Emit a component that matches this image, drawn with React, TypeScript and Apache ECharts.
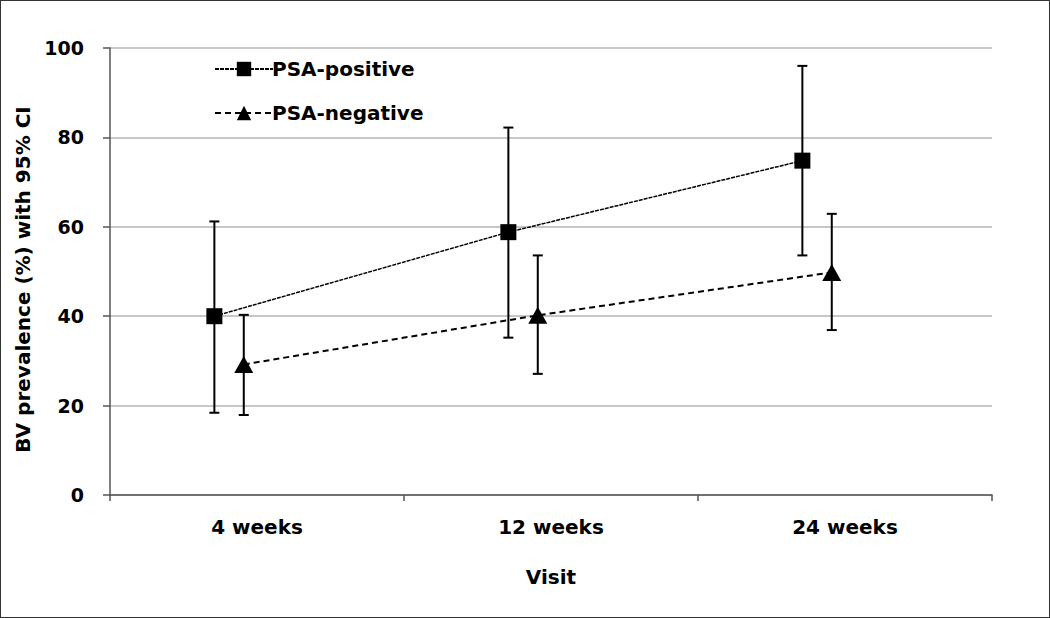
import React, { useEffect, useRef } from "react";
import * as echarts from "echarts";

const categories = ["4 weeks", "12 weeks", "24 weeks"];
const posValues = [40, 58.8, 74.8];
const posLower = [18.4, 35.2, 53.6];
const posUpper = [61.2, 82.2, 96];
const negValues = [29.2, 40.2, 49.8];
const negLower = [17.9, 27.1, 36.9];
const negUpper = [40.3, 53.6, 62.9];
const yTicks = [0, 20, 40, 60, 80, 100];

const POS_OFFSET = -0.145;
const NEG_OFFSET = -0.045;
const FONT = "'DejaVu Sans', sans-serif";

export default function App() {
  const ref = useRef<HTMLDivElement>(null);
  useEffect(() => {
    if (!ref.current) return;
    const chart = echarts.init(ref.current, null, { renderer: "svg" });
    const pos = posValues.map((v, i) => [i + 0.5 + POS_OFFSET, v]);
    const neg = negValues.map((v, i) => [i + 0.5 + NEG_OFFSET, v]);
    const posErr = posValues.map((_, i) => [i + 0.5 + POS_OFFSET, posLower[i], posUpper[i]]);
    const negErr = negValues.map((_, i) => [i + 0.5 + NEG_OFFSET, negLower[i], negUpper[i]]);
    const errRender = (params: any, api: any) => {
      const x = api.value(0);
      const lo = api.coord([x, api.value(1)]);
      const hi = api.coord([x, api.value(2)]);
      const hw = 5;
      const style = { stroke: "#000", lineWidth: 2 };
      return {
        type: "group",
        children: [
          { type: "line", shape: { x1: lo[0], y1: lo[1], x2: hi[0], y2: hi[1] }, style },
          { type: "line", shape: { x1: lo[0] - hw, y1: lo[1], x2: lo[0] + hw, y2: lo[1] }, style },
          { type: "line", shape: { x1: hi[0] - hw, y1: hi[1], x2: hi[0] + hw, y2: hi[1] }, style },
        ],
      };
    };
    const txt = { fontFamily: FONT, fontWeight: "bold", fontSize: 20, color: "#000" };
    chart.setOption({
      animation: false,
      backgroundColor: "#fff",
      textStyle: { fontFamily: FONT },
      grid: { left: 109, right: 57, top: 47, bottom: 122 },
      legend: {
        orient: "vertical",
        left: 208,
        top: 53,
        itemWidth: 58,
        itemHeight: 18,
        itemGap: 24,
        data: ["PSA-positive", "PSA-negative"],
        textStyle: { ...txt, padding: [0, 0, 0, -6] },
      },
      xAxis: [
        {
          type: "category",
          data: categories,
          boundaryGap: true,
          axisLine: { lineStyle: { color: "#555", width: 1.5 } },
          axisTick: { show: true, length: 6, lineStyle: { color: "#555", width: 1.5 } },
          axisLabel: { ...txt, margin: 22 },
          name: "Visit",
          nameLocation: "middle",
          nameGap: 72,
          nameTextStyle: txt,
        },
        { type: "value", min: 0, max: categories.length, show: false },
      ],
      yAxis: {
        type: "value",
        min: yTicks[0],
        max: yTicks[yTicks.length - 1],
        interval: 20,
        axisLine: { show: true, lineStyle: { color: "#555", width: 1.5 } },
        axisTick: { show: true, length: 7, lineStyle: { color: "#555", width: 1.5 } },
        axisLabel: { ...txt, fontSize: 19, margin: 26 },
        splitLine: { show: true, lineStyle: { color: "#b4b4b4", width: 1.5 } },
        name: "BV prevalence (%) with 95% CI",
        nameLocation: "middle",
        nameGap: 70,
        nameTextStyle: { ...txt, padding: [0, 16, 0, 0] },
      },
      series: [
        { type: "custom", xAxisIndex: 1, data: posErr, renderItem: errRender, z: 2, silent: true },
        { type: "custom", xAxisIndex: 1, data: negErr, renderItem: errRender, z: 2, silent: true },
        {
          name: "PSA-positive",
          type: "line",
          xAxisIndex: 1,
          data: pos,
          symbol: "rect",
          symbolSize: 16,
          z: 3,
          itemStyle: { color: "#000" },
          lineStyle: { color: "#000", width: 1.5, type: [4, 1] },
        },
        {
          name: "PSA-negative",
          type: "line",
          xAxisIndex: 1,
          data: neg,
          symbol: "triangle",
          symbolSize: [19, 17],
          z: 3,
          itemStyle: { color: "#000" },
          lineStyle: { color: "#000", width: 2, type: [6, 4] },
        },
      ],
    });
    return () => chart.dispose();
  }, []);
  return (
    <div
      ref={ref}
      style={{
        position: "fixed",
        left: 0,
        top: 0,
        width: 1050,
        height: 618,
        boxSizing: "border-box",
        border: "1px solid #333",
      }}
    />
  );
}
